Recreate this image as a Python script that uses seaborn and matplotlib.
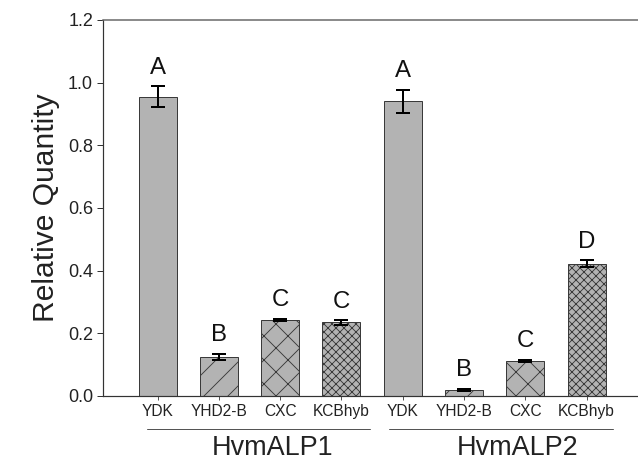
import matplotlib
matplotlib.use("Agg")
import matplotlib.pyplot as plt
import matplotlib.transforms as mtransforms
import seaborn as sns
import pandas as pd

cultivars = ["YDK", "YHD2-B", "CXC", "KCBhyb"]
genes = ["HvmALP1", "HvmALP2"]
alp1_values = [0.955, 0.125, 0.243, 0.235]
alp1_errors = [0.033, 0.009, 0.004, 0.007]
alp2_values = [0.940, 0.020, 0.112, 0.422]
alp2_errors = [0.037, 0.003, 0.004, 0.011]
alp1_letters = ["A", "B", "C", "C"]
alp2_letters = ["A", "B", "C", "D"]
hatches = ["", "/", "x", "xxx"]

rows = []
for g, vals, errs, lets in [(genes[0], alp1_values, alp1_errors, alp1_letters),
                            (genes[1], alp2_values, alp2_errors, alp2_letters)]:
    for c, v, e, l in zip(cultivars, vals, errs, lets):
        rows.append({"key": f"{g}|{c}", "gene": g, "cultivar": c,
                     "value": v, "err": e, "letter": l})
df = pd.DataFrame(rows)

sns.set_style("white")
plt.rcParams["font.family"] = ["Liberation Sans", "DejaVu Sans"]
plt.rcParams["hatch.linewidth"] = 0.9
plt.rcParams["hatch.color"] = "#333333"

DPI = 72
fig = plt.figure(figsize=(638 / DPI, 463 / DPI), dpi=DPI)
ax = fig.add_axes([103 / 638, 1 - 396 / 463, (647.3 - 103) / 638, (396 - 20) / 463])

sns.barplot(data=df, x="key", y="value", color="#b3b3b3", saturation=1,
            width=0.62, edgecolor="#3a3a3a", linewidth=1.0, errorbar=None, ax=ax)

for i, p in enumerate(ax.patches[:len(df)]):
    p.set_hatch(hatches[i % 4])

xs = list(range(len(df)))
ax.errorbar(xs, df["value"], yerr=df["err"], fmt="none", ecolor="black",
            elinewidth=2, capsize=7, capthick=2, zorder=5)

for i, r in df.iterrows():
    ax.text(i, r["value"] + r["err"] + 0.04, r["letter"], ha="center",
            va="baseline", fontsize=24, color="#111111")

ax.set_xlim(-0.89, 7.99)
ax.set_ylim(0, 1.2)
ax.set_yticks([0, 0.2, 0.4, 0.6, 0.8, 1.0, 1.2])
ax.set_yticklabels(["0.0", "0.2", "0.4", "0.6", "0.8", "1.0", "1.2"])
ax.set_xticks(xs)
ax.set_xticklabels(list(df["cultivar"]))
ax.tick_params(axis="y", direction="out", length=6, width=1, labelsize=18,
               colors="#333333", labelcolor="#222222", pad=4, left=True)
ax.tick_params(axis="x", direction="out", length=4, width=1, labelsize=15.5,
               colors="#555555", labelcolor="#222222", pad=4, bottom=True)
ax.set_xlabel("")
ax.set_ylabel("Relative Quantity", fontsize=30, color="#222222", labelpad=8)

for s in ["left", "bottom"]:
    ax.spines[s].set_color("#333333")
    ax.spines[s].set_linewidth(1.2)
ax.spines["top"].set_color("#666666")
ax.spines["top"].set_linewidth(1.5)
ax.spines["right"].set_visible(False)

trans = mtransforms.blended_transform_factory(ax.transData, ax.transAxes)
for (x0, x1, xc, name) in [(-0.17, 3.47, 1.87, genes[0]), (3.78, 7.43, 5.87, genes[1])]:
    ax.plot([x0, x1], [-0.088, -0.088], transform=trans, color="#555555",
            lw=1, clip_on=False)
    ax.text(xc, -0.138, name, transform=trans, ha="center", va="center",
            fontsize=27, color="#222222")

fig.savefig("out.png", dpi=DPI)
